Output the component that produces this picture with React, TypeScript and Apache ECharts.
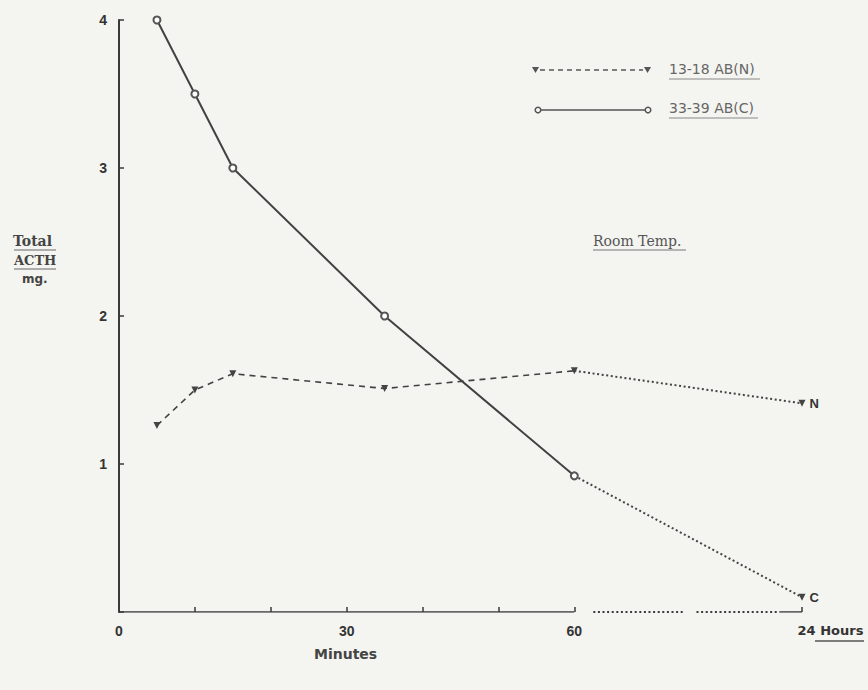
import React, { useEffect, useRef } from 'react';
import * as echarts from 'echarts';

// ---- data ----
const minutes = [5, 10, 15, 35, 60];
const acthC = [4.0, 3.5, 3.0, 2.0, 0.92];
const acthN = [1.26, 1.5, 1.61, 1.51, 1.63];
const hour24X = 90; // position used for the "24 Hours" reading
const acthC24 = 0.1;
const acthN24 = 1.41;
const xTickValues = [10, 20, 30, 40, 50, 60, 90];
const xLabelValues = [0, 30, 60, 90];
const xLabelTexts = ['0', '30', '60', '24 Hours'];
const yLabelTexts = ['', '1', '2', '3', '4'];
const seriesNames = ['13-18 AB(N)', '33-39 AB(C)'];
const axisSolid = [[0, 0], [60, 0]];
const axisDotted1 = [[62.5, 0], [74.5, 0]];
const axisDotted2 = [[76.1, 0], [87, 0]];
const axisEnd = [[87, 0], [90, 0]];

const INK = '#3a3a3a';
const BG = '#f4f4f0';
const FONT = '"Liberation Sans", Arial, sans-serif';

export default function App() {
  const ref = useRef<HTMLDivElement>(null);
  useEffect(() => {
    if (!ref.current) return;
    const chart = echarts.init(ref.current, null, { renderer: 'svg' });
    const dotted = [2, 2.6];
    const baseLine = (data: number[][], type: any, width: number) => ({
      type: 'line', data, symbol: 'none', silent: true,
      lineStyle: { color: INK, width, type },
      z: 1,
    });
    const option: any = {
      animation: false,
      backgroundColor: BG,
      textStyle: { fontFamily: FONT },
      grid: { left: 119, right: 66, top: 20, bottom: 78, containLabel: false, outerBoundsMode: 'none' },
      xAxis: {
        type: 'value', min: 0, max: hour24X,
        axisLine: { show: false },
        splitLine: { show: false },
        axisTick: {
          show: true, inside: true, length: 5, customValues: xTickValues,
          lineStyle: { color: INK, width: 1.5 },
        },
        axisLabel: {
          customValues: xLabelValues, margin: 12,
          color: '#333', fontWeight: 'bold', fontSize: 14, fontFamily: FONT,
          formatter: (v: number) => {
            const i = xLabelValues.indexOf(v);
            if (i < 0) return '';
            if (v === hour24X) return '{h|' + xLabelTexts[i] + '}';
            return xLabelTexts[i];
          },
          rich: {
            h: { padding: [0, 0, 0, 57], color: '#333', fontWeight: 'bold', fontSize: 13, fontFamily: '"DejaVu Sans", sans-serif' },
          },
        },
      },
      yAxis: {
        type: 'value', min: 0, max: 4, interval: 1,
        axisLine: { show: true, lineStyle: { color: INK, width: 2 } },
        splitLine: { show: false },
        axisTick: { show: true, inside: true, length: 5, lineStyle: { color: INK, width: 1.5 } },
        axisLabel: {
          margin: 12, color: '#333', fontWeight: 'bold', fontSize: 14, fontFamily: FONT,
          formatter: (v: number) => yLabelTexts[Math.round(v)] ?? '',
        },
      },
      series: [
        baseLine(axisSolid, 'solid', 1.5),
        baseLine(axisDotted1, dotted, 2),
        baseLine(axisDotted2, dotted, 2),
        baseLine(axisEnd, 'solid', 1.5),
        {
          name: seriesNames[1], type: 'line',
          data: minutes.map((m, i) => [m, acthC[i]]),
          symbol: 'emptyCircle', symbolSize: 7,
          lineStyle: { color: '#424242', width: 2 },
          itemStyle: { color: '#555', borderWidth: 1.5 },
          z: 3,
        },
        {
          name: seriesNames[0], type: 'line',
          data: minutes.map((m, i) => [m, acthN[i]]),
          symbol: 'triangle', symbolRotate: 180, symbolSize: 7,
          lineStyle: { color: '#424242', width: 1.6, type: [6, 5] },
          itemStyle: { color: '#444' },
          z: 3,
        },
        {
          name: seriesNames[1] + ' 24h', type: 'line',
          data: [
            { value: [minutes[4], acthC[4]], symbol: 'none' },
            {
              value: [hour24X, acthC24], symbol: 'triangle', symbolRotate: 180, symbolSize: 7,
              label: { show: true, position: 'right', formatter: 'C', distance: 4, color: '#333', fontWeight: 'bold', fontSize: 13 },
            },
          ],
          lineStyle: { color: '#444', width: 2, type: dotted },
          itemStyle: { color: '#444' },
          z: 3,
        },
        {
          name: seriesNames[0] + ' 24h', type: 'line',
          data: [
            { value: [minutes[4], acthN[4]], symbol: 'none' },
            {
              value: [hour24X, acthN24], symbol: 'triangle', symbolRotate: 180, symbolSize: 7,
              label: { show: true, position: 'right', formatter: 'N', distance: 4, color: '#333', fontWeight: 'bold', fontSize: 13 },
            },
          ],
          lineStyle: { color: '#444', width: 2, type: dotted },
          itemStyle: { color: '#444' },
          z: 3,
        },
      ],
      graphic: [
        // y-axis title
        { type: 'text', left: 13, top: 234, style: { text: 'Total', font: 'bold 14px "DejaVu Serif", serif', fill: '#444' } },
        { type: 'line', shape: { x1: 14, y1: 250, x2: 56, y2: 250 }, style: { stroke: '#666', lineWidth: 1 } },
        { type: 'text', left: 14, top: 254, style: { text: 'ACTH', font: 'bold 13px "DejaVu Serif", serif', fill: '#444' } },
        { type: 'line', shape: { x1: 14, y1: 269, x2: 56, y2: 269 }, style: { stroke: '#666', lineWidth: 1 } },
        { type: 'text', left: 22, top: 273, style: { text: 'mg.', font: 'bold 12px "DejaVu Sans", sans-serif', fill: '#444' } },
        // x-axis title
        { type: 'text', left: 314, top: 647, style: { text: 'Minutes', font: 'bold 14px "DejaVu Sans", sans-serif', fill: '#444' } },
        // underline of "Hours"
        { type: 'line', shape: { x1: 815, y1: 641, x2: 864, y2: 641 }, style: { stroke: '#555', lineWidth: 1.5 } },
        // Room Temp.
        { type: 'text', left: 593, top: 234, style: { text: 'Room Temp.', font: '14px "DejaVu Serif", serif', fill: '#555' } },
        { type: 'line', shape: { x1: 593, y1: 250, x2: 686, y2: 250 }, style: { stroke: '#777', lineWidth: 1 } },
        // legend row N
        { type: 'line', shape: { x1: 540, y1: 70, x2: 643, y2: 70 }, style: { stroke: '#555', lineWidth: 1.5, lineDash: [5, 4] } },
        { type: 'polygon', shape: { points: [[532, 67], [539, 67], [535.5, 73]] }, style: { fill: '#555' } },
        { type: 'polygon', shape: { points: [[644, 67], [651, 67], [647.5, 73]] }, style: { fill: '#555' } },
        { type: 'text', left: 669, top: 62, style: { text: seriesNames[0], font: '14px "DejaVu Sans", sans-serif', fill: '#666' } },
        { type: 'line', shape: { x1: 669, y1: 79, x2: 760, y2: 79 }, style: { stroke: '#888', lineWidth: 1 } },
        // legend row C
        { type: 'line', shape: { x1: 540, y1: 110, x2: 646, y2: 110 }, style: { stroke: '#555', lineWidth: 1.5 } },
        { type: 'circle', shape: { cx: 538, cy: 110, r: 2.8 }, style: { fill: BG, stroke: '#555', lineWidth: 1.5 } },
        { type: 'circle', shape: { cx: 648, cy: 110, r: 2.8 }, style: { fill: BG, stroke: '#555', lineWidth: 1.5 } },
        { type: 'text', left: 669, top: 101, style: { text: seriesNames[1], font: '14px "DejaVu Sans", sans-serif', fill: '#666' } },
        { type: 'line', shape: { x1: 669, y1: 118, x2: 758, y2: 118 }, style: { stroke: '#888', lineWidth: 1 } },
      ],
    };
    chart.setOption(option);
    return () => chart.dispose();
  }, []);
  return <div ref={ref} style={{ width: 868, height: 690, position: 'absolute', left: 0, top: 0 }} />;
}
